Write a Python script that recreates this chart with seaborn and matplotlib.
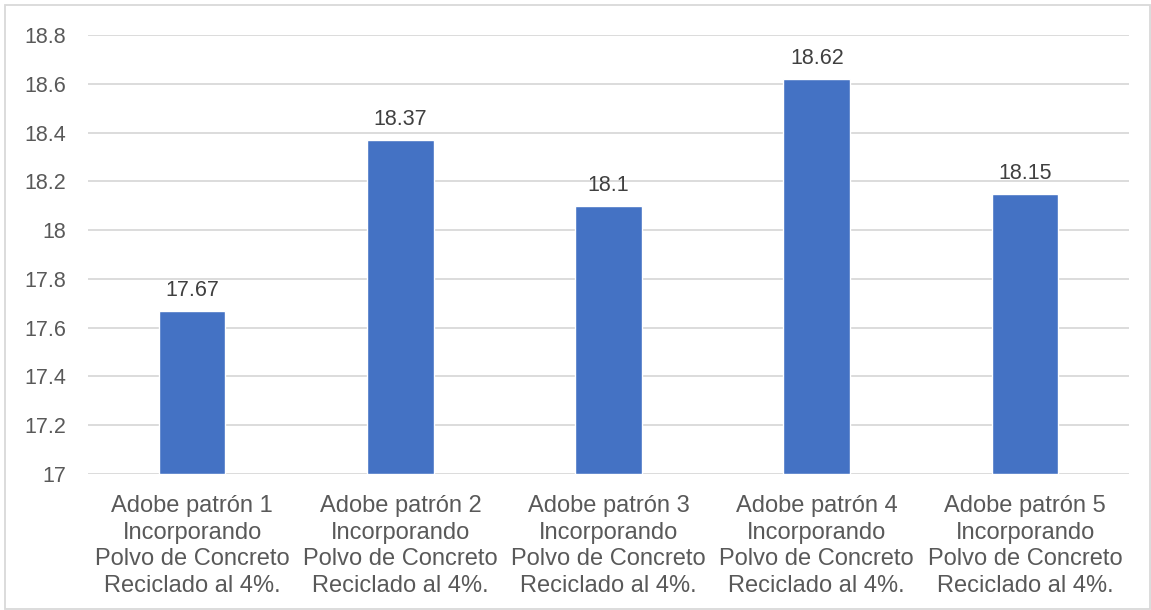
import pandas as pd
import numpy as np
import matplotlib.pyplot as plt
import seaborn as sns
from matplotlib.patches import Rectangle

# ── datos ──
categorias = [
    'Adobe patrón 1\nIncorporando\nPolvo de Concreto\nReciclado al 4%.',
    'Adobe patrón 2\nIncorporando\nPolvo de Concreto\nReciclado al 4%.',
    'Adobe patrón 3\nIncorporando\nPolvo de Concreto\nReciclado al 4%.',
    'Adobe patrón 4\nIncorporando\nPolvo de Concreto\nReciclado al 4%.',
    'Adobe patrón 5\nIncorporando\nPolvo de Concreto\nReciclado al 4%.',
]
valores = [17.67, 18.37, 18.10, 18.62, 18.15]
etiquetas = ['17.67', '18.37', '18.1', '18.62', '18.15']
yticks = [17, 17.2, 17.4, 17.6, 17.8, 18, 18.2, 18.4, 18.6, 18.8]
ytick_labels = ['17', '17.2', '17.4', '17.6', '17.8', '18', '18.2', '18.4', '18.6', '18.8']

df = pd.DataFrame({'cat': categorias, 'val': valores})

sns.set_style('white')
plt.rcParams['font.family'] = ['Liberation Sans', 'DejaVu Sans']

fig = plt.figure(figsize=(11.51, 6.10), dpi=100)
ax = fig.add_axes([0.0765, 0.223, 0.9045, 0.7196])

sns.barplot(data=df, x='cat', y='val', color='#4472C4', saturation=1,
            width=0.32, ax=ax)
# barras desde 17
for p in ax.patches:
    h = p.get_height()
    p.set_y(17)
    p.set_height(h - 17)

ax.set_ylim(17, 18.8)
ax.set_xlim(-0.5, 4.5)
ax.set_yticks(yticks)
ax.set_yticklabels(ytick_labels)
ax.yaxis.grid(True, color='#D9D9D9', lw=1.3)
ax.set_axisbelow(True)
for s in ax.spines.values():
    s.set_visible(False)
ax.tick_params(axis='y', length=0, pad=16, labelsize=15.5, labelcolor='#595959')
ax.tick_params(axis='x', length=0, pad=15, labelsize=17, labelcolor='#595959')
for lbl in ax.get_xticklabels():
    lbl.set_linespacing(1.28)
ax.set_xlabel('')
ax.set_ylabel('')

for i, (v, t) in enumerate(zip(valores, etiquetas)):
    ax.annotate(t, (i, v), xytext=(0, 7), textcoords='offset points',
                ha='center', va='bottom', fontsize=15.5, color='#404040')

fig.patches.append(Rectangle((0.004, 0.002), 0.995, 0.99, transform=fig.transFigure,
                             fill=False, edgecolor='#D9D9D9', lw=1.3))

plt.savefig('out.png', dpi=100)
